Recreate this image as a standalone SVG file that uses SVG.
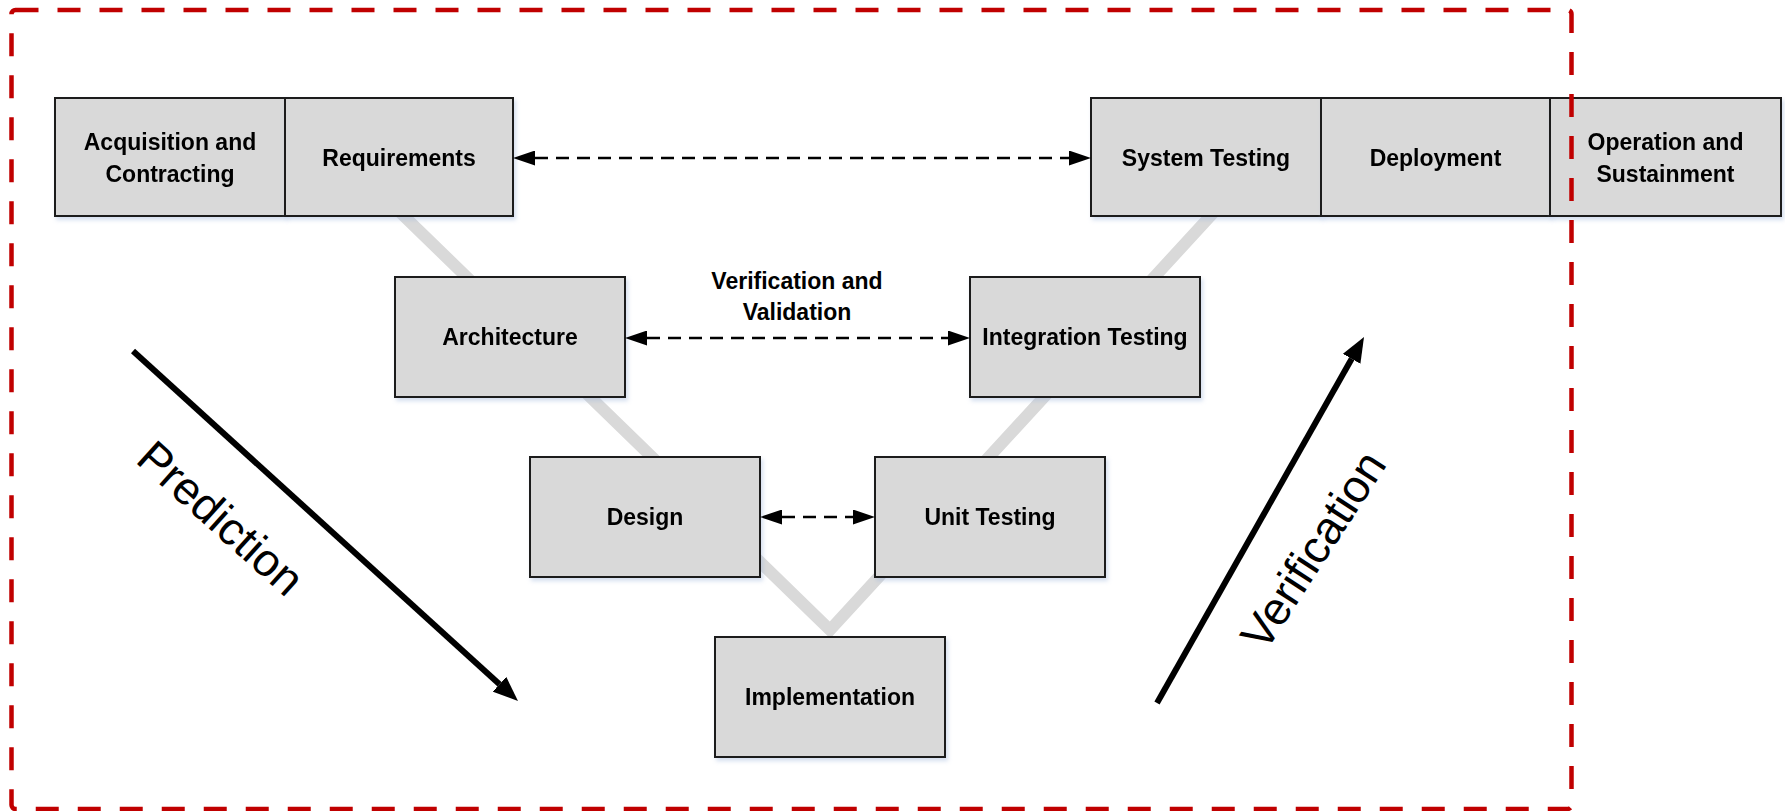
<svg xmlns="http://www.w3.org/2000/svg" width="1785" height="811" viewBox="0 0 1785 811">
  <defs>
    <style>
      .box { fill: #d9d9d9; stroke: #1f1f1f; stroke-width: 2; }
      .lbl { font-family: "Liberation Sans", Arial, sans-serif; font-weight: bold; font-size: 23px; fill: #000; text-anchor: middle; dominant-baseline: central; }
      .big { font-family: "Liberation Sans", Arial, sans-serif; font-size: 46px; fill: #000; text-anchor: middle; dominant-baseline: central; }
      .vee { fill: none; stroke: #d9d9d9; stroke-width: 12; stroke-linejoin: miter; }
      .link { fill: none; stroke: #000; stroke-width: 2.5; stroke-dasharray: 13 8; }
      .flow { fill: none; stroke: #000; stroke-width: 6; }
      .frame { fill: none; stroke: #c00000; stroke-width: 4.5; stroke-dasharray: 23 19; }
    </style>
    <filter id="soft" x="-10%" y="-10%" width="125%" height="135%">
      <feDropShadow dx="2" dy="3" stdDeviation="2" flood-color="#9fb6dc" flood-opacity="0.45"/>
    </filter>
    <marker id="head" markerUnits="userSpaceOnUse" markerWidth="22" markerHeight="15" refX="0" refY="7.5" orient="auto-start-reverse" viewBox="0 0 22 15">
      <path d="M0,0 L22,7.5 L0,15 Z" fill="#000"/>
    </marker>
    <marker id="bighead" markerUnits="userSpaceOnUse" markerWidth="25" markerHeight="20" refX="0" refY="10" orient="auto" viewBox="0 0 25 20">
      <path d="M0,0 L25,10 L0,20 Z" fill="#000"/>
    </marker>
  </defs>

  <rect width="1785" height="811" fill="#fff"/>

  <!-- V-shaped backbone behind the phases -->
  <polyline class="vee" points="336,150 830,630 1271,150"/>

  <!-- phase boxes -->
  <g id="acquisition" filter="url(#soft)">
    <rect class="box" x="55" y="98" width="230" height="118"/>
    <text class="lbl" x="170" y="142">Acquisition and</text>
    <text class="lbl" x="170" y="174">Contracting</text>
  </g>
  <g id="requirements" filter="url(#soft)">
    <rect class="box" x="285" y="98" width="228" height="118"/>
    <text class="lbl" x="399" y="158">Requirements</text>
  </g>
  <g id="system-testing" filter="url(#soft)">
    <rect class="box" x="1091" y="98" width="230" height="118"/>
    <text class="lbl" x="1206" y="158">System Testing</text>
  </g>
  <g id="deployment" filter="url(#soft)">
    <rect class="box" x="1321" y="98" width="229" height="118"/>
    <text class="lbl" x="1435.5" y="158">Deployment</text>
  </g>
  <g id="operation" filter="url(#soft)">
    <rect class="box" x="1550" y="98" width="231" height="118"/>
    <text class="lbl" x="1665.5" y="142">Operation and</text>
    <text class="lbl" x="1665.5" y="174">Sustainment</text>
  </g>
  <g id="architecture" filter="url(#soft)">
    <rect class="box" x="395" y="277" width="230" height="120"/>
    <text class="lbl" x="510" y="337">Architecture</text>
  </g>
  <g id="integration-testing" filter="url(#soft)">
    <rect class="box" x="970" y="277" width="230" height="120"/>
    <text class="lbl" x="1085" y="337">Integration Testing</text>
  </g>
  <g id="design" filter="url(#soft)">
    <rect class="box" x="530" y="457" width="230" height="120"/>
    <text class="lbl" x="645" y="517">Design</text>
  </g>
  <g id="unit-testing" filter="url(#soft)">
    <rect class="box" x="875" y="457" width="230" height="120"/>
    <text class="lbl" x="990" y="517">Unit Testing</text>
  </g>
  <g id="implementation" filter="url(#soft)">
    <rect class="box" x="715" y="637" width="230" height="120"/>
    <text class="lbl" x="830" y="697">Implementation</text>
  </g>

  <!-- verification and validation links -->
  <g id="connectors">
    <line class="link" x1="535" y1="158" x2="1069" y2="158" marker-start="url(#head)" marker-end="url(#head)"/>
    <line class="link" x1="647" y1="338" x2="948" y2="338" marker-start="url(#head)" marker-end="url(#head)"/>
    <line class="link" x1="782" y1="517" x2="853" y2="517" marker-start="url(#head)" marker-end="url(#head)"/>
    <line class="flow" x1="133" y1="351" x2="499.5" y2="684.2" marker-end="url(#bighead)"/>
    <line class="flow" x1="1157" y1="703" x2="1351.7" y2="358.8" marker-end="url(#bighead)"/>
  </g>

  <g id="vv-label">
    <text class="lbl" x="797" y="281">Verification and</text>
    <text class="lbl" x="797" y="312">Validation</text>
  </g>
  <text class="big" transform="translate(221,518) rotate(42)">Prediction</text>
  <text class="big" transform="translate(1313,550) rotate(-57)">Verification</text>

  <!-- dashed boundary -->
  <rect class="frame" x="11.5" y="10" width="1560" height="799" rx="4"/>
</svg>
